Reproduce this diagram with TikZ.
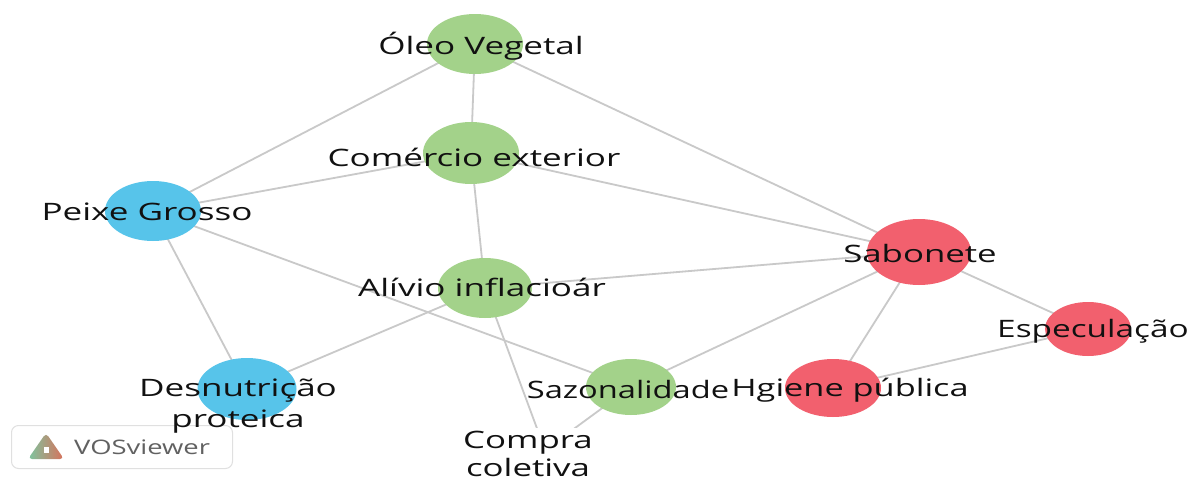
\documentclass[tikz,border=0pt]{standalone}
\usepackage{fontspec}
\setmainfont{Open Sans}
\usetikzlibrary{backgrounds,shapes.geometric}
\definecolor{vgreen}{HTML}{A3D28A}
\definecolor{vblue}{HTML}{57C4EA}
\definecolor{vred}{HTML}{F2606E}
\definecolor{vedge}{HTML}{C9C9C9}
\definecolor{vtext}{HTML}{111111}
\definecolor{logoa}{HTML}{7CC6A0}
\definecolor{logob}{HTML}{D9705A}
\newcommand{\wide}[2][1.46]{\scalebox{#1}[1]{#2}}
\tikzset{
  blob/.style n args={3}{shape=ellipse,inner sep=0pt,minimum width=#1,minimum height=#2,fill=#3,draw=none},
  lab/.style={font=\fontsize{24}{29}\selectfont,text=vtext,align=center,inner sep=0pt},
  link/.style={draw=vedge,line width=1.8pt},
}
\begin{document}
\begin{tikzpicture}[x=1pt,y=-1pt]
\useasboundingbox (0,0) rectangle (1189,477);
% legend box
\node[draw=black!12,line width=1pt,rounded corners=7pt,fill=white,minimum width=221pt,minimum height=43pt,inner sep=0pt] (legend) at (122,447) {};
\shade[left color=logoa,right color=logob,rounded corners=4pt] (28,459) -- (64,459) -- (46,433) -- cycle;
\fill[white] (44,447) rectangle (49,453);
\node[font=\fontsize{20}{24}\selectfont,text=black!62,inner sep=0pt,anchor=west] (legendtext) at (74,447) {\scalebox{1.37}[1]{VOSviewer}};
% nodes
\node[blob={96pt}{60pt}{vgreen}] (oleo) at (475,44) {};
\node[blob={96pt}{62pt}{vgreen}] (comercio) at (471,153) {};
\node[blob={96pt}{60pt}{vblue}] (peixe) at (153,211) {};
\node[blob={99pt}{62pt}{vblue}] (desn) at (247,389) {};
\node[blob={94pt}{60pt}{vgreen}] (alivio) at (485,288) {};
\node[blob={90pt}{56pt}{vgreen}] (saz) at (631,387) {};
\node[blob={104pt}{66pt}{vred}] (sabonete) at (919,252) {};
\node[blob={96pt}{58pt}{vred}] (higiene) at (833,388) {};
\node[blob={86pt}{54pt}{vred}] (espec) at (1088,329) {};
\node[shape=rectangle,fill=white,minimum width=100pt,minimum height=44pt,inner sep=0pt] (compra) at (545,450) {};
% edges
\begin{scope}[on background layer]
\fill[white] (0,0) rectangle (1189,477);
\draw[link] (oleo.center) -- (peixe.center);
\draw[link] (oleo.center) -- (comercio.center);
\draw[link] (oleo.center) -- (sabonete.center);
\draw[link] (comercio.center) -- (peixe.center);
\draw[link] (comercio.center) -- (alivio.center);
\draw[link] (comercio.center) -- (sabonete.center);
\draw[link] (peixe.center) -- (desn.center);
\draw[link] (peixe.center) -- (saz.center);
\draw[link] (alivio.center) -- (desn.center);
\draw[link] (alivio.center) -- (sabonete.center);
\draw[link] (alivio.center) -- (compra.center);
\draw[link] (saz.center) -- (sabonete.center);
\draw[link] (saz.center) -- (compra.center);
\draw[link] (sabonete.center) -- (higiene.center);
\draw[link] (sabonete.center) -- (espec.center);
\draw[link] (higiene.center) -- (espec.center);
\end{scope}
% labels
\node[lab] (l1) at (481,46) {\wide{Óleo Vegetal}};
\node[lab] (l2) at (474,157) {\wide{Comércio exterior}};
\node[lab] (l3) at (147,212) {\wide{Peixe Grosso}};
\node[lab] (l4) at (238,406) {\wide{Desnutrição}\\[2pt]\wide{proteica}};
\node[lab] (l5) at (482,287) {\wide{Alívio inflacioár}};
\node[lab] (l6) at (628,389) {\wide[1.36]{Sazonalidade}};
\node[lab] (l7) at (850,390) {\wide[1.43]{Hgiene pública}};
\node[lab] (l8) at (920,253) {\wide[1.45]{Sabonete}};
\node[lab] (l9) at (1093,331) {\wide[1.39]{Especulação}};
\node[lab] (l10) at (528,454) {\wide[1.45]{Compra}\\[-1pt]\wide[1.45]{coletiva}};
\end{tikzpicture}
\end{document}
